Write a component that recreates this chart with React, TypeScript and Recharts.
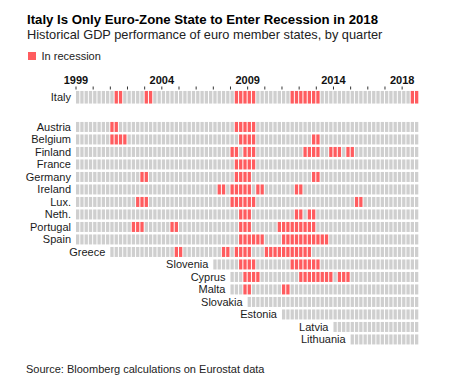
import { Scatter, ScatterChart, XAxis, YAxis } from 'recharts';

const FONT = '"Liberation Sans", Arial, Helvetica, sans-serif';
const START_YEAR = 1999;
const N_QUARTERS = 80;
const GRAY = '#cfcfcf';
const RED = '#ff5c5f';

const yearTicks = [
  1999, 2000, 2001, 2002, 2003, 2004, 2005, 2006, 2007, 2008,
  2009, 2010, 2011, 2012, 2013, 2014, 2015, 2016, 2017, 2018,
];
const yearLabels = [1999, 2004, 2009, 2014, 2018];

const italyRecessions = ['2001Q2-2001Q3', '2003Q1-2003Q2', '2008Q2-2009Q2', '2011Q3-2013Q1', '2018Q3-2018Q4'];

const countries = [
  'Austria', 'Belgium', 'Finland', 'France', 'Germany', 'Ireland', 'Lux.', 'Neth.', 'Portugal',
  'Spain', 'Greece', 'Slovenia', 'Cyprus', 'Malta', 'Slovakia', 'Estonia', 'Latvia', 'Lithuania',
];

const joinedIn = [
  '1999Q1', '1999Q1', '1999Q1', '1999Q1', '1999Q1', '1999Q1', '1999Q1', '1999Q1', '1999Q1',
  '1999Q1', '2001Q1', '2007Q1', '2008Q1', '2008Q1', '2009Q1', '2011Q1', '2014Q1', '2015Q1',
];

const recessions = [
  ['2001Q1-2001Q2', '2008Q2-2009Q2'],
  ['2001Q1-2001Q4', '2008Q3-2009Q2', '2012Q4-2013Q1'],
  ['2008Q1-2008Q2', '2008Q4-2009Q2', '2012Q2-2013Q1', '2013Q4-2014Q2', '2014Q4-2015Q1'],
  ['2008Q2-2009Q2'],
  ['2002Q4-2003Q1', '2008Q2-2009Q1', '2012Q4-2013Q1'],
  ['2007Q2-2007Q3', '2008Q1-2009Q1', '2009Q3-2009Q4', '2011Q4-2012Q1'],
  ['2002Q3-2003Q1', '2008Q1-2009Q2', '2015Q2-2015Q3'],
  ['2008Q3-2009Q1', '2011Q4-2012Q1', '2012Q3-2012Q4'],
  ['2002Q2-2002Q4', '2004Q3-2004Q4', '2008Q3-2009Q1', '2010Q4-2012Q4'],
  ['2008Q3-2009Q4', '2011Q1-2013Q3'],
  ['2004Q4-2005Q1', '2007Q3-2007Q4', '2008Q2-2009Q1', '2010Q1-2012Q3'],
  ['2008Q3-2009Q2', '2011Q3-2013Q1'],
  ['2008Q4-2009Q3', '2012Q1-2013Q4', '2014Q2-2014Q4'],
  ['2008Q4-2009Q1', '2011Q1-2011Q2'],
  [],
  [],
  [],
  [],
];

// layout
const LEFT = 76;
const RIGHT = 30.7;
const PITCH = (450 - LEFT - RIGHT) / N_QUARTERS;

const qIndex = (s: string) => (Number(s.slice(0, 4)) - START_YEAR) * 4 + Number(s.slice(5)) - 1;

type CellDatum = { q: number; row: number; rec: boolean; label?: string };

function buildRow(name: string, joined: string, spells: string[], row: number): CellDatum[] {
  const rec = new Set<number>();
  spells.forEach((sp) => {
    const [a, b] = sp.split('-').map(qIndex);
    for (let i = a; i <= b; i++) rec.add(i);
  });
  const start = qIndex(joined);
  const cells: CellDatum[] = [];
  for (let i = start; i < N_QUARTERS; i++) {
    cells.push({ q: i + 0.5, row, rec: rec.has(i), label: i === start ? name : undefined });
  }
  return cells;
}

const italyCells = buildRow('Italy', '1999Q1', italyRecessions, 0);
const otherCells = countries.flatMap((c, i) => buildRow(c, joinedIn[i], recessions[i], i));

const makeCell = (h: number) => (props: any) => {
  const { cx, cy, fill, payload } = props;
  const x0 = cx - PITCH / 2;
  return (
    <g>
      <rect x={x0} y={cy - h / 2} width={PITCH - 1} height={h} fill={fill} />
      {payload.label && (
        <text x={x0 - 5} y={cy} dy="0.36em" textAnchor="end" fontSize={11} fill="#1a1a1a" fontFamily={FONT}>
          {payload.label}
        </text>
      )}
    </g>
  );
};

const YearTick = (props: any) => {
  const { x, y, payload } = props;
  const year = START_YEAR + payload.value / 4;
  if (!yearLabels.includes(year)) return null;
  return (
    <text x={x} y={y} dy={-1} textAnchor="middle" fontSize={11} fontWeight="bold" fill="#111" fontFamily={FONT}>
      {year}
    </text>
  );
};

export default function App() {
  return (
    <div style={{ position: 'relative', width: 450, height: 384, margin: -8, background: '#fff', fontFamily: FONT }}>
      <svg width={450} height={384} style={{ position: 'absolute', left: 0, top: 0 }}>
        <text x={27} y={24} fontSize={13.2} fontWeight="bold" fill="#000" fontFamily={FONT}>
          Italy Is Only Euro-Zone State to Enter Recession in 2018
        </text>
        <text x={27} y={39} fontSize={12.8} fill="#222" fontFamily={FONT}>
          Historical GDP performance of euro member states, by quarter
        </text>
        <rect x={28} y={52} width={8} height={8} fill={RED} />
        <text x={41.5} y={60} fontSize={11} fill="#222" fontFamily={FONT}>
          In recession
        </text>
        <text x={26} y={373} fontSize={11} fill="#222" fontFamily={FONT}>
          Source: Bloomberg calculations on Eurostat data
        </text>
      </svg>

      <div style={{ position: 'absolute', left: 0, top: 0 }}>
        <ScatterChart width={450} height={110} margin={{ top: 70, right: RIGHT, bottom: 5, left: LEFT }}>
          <XAxis
            type="number"
            dataKey="q"
            domain={[0, N_QUARTERS]}
            orientation="top"
            ticks={yearTicks.map((y) => (y - START_YEAR) * 4)}
            tick={<YearTick />}
            tickSize={3}
            tickLine={{ stroke: '#333' }}
            axisLine={false}
            height={19.5}
            interval={0}
          />
          <YAxis type="number" dataKey="row" domain={[-0.5, 0.5]} hide />
          <Scatter data={italyCells.filter((d) => !d.rec)} fill={GRAY} shape={makeCell(12.6)} isAnimationActive={false} />
          <Scatter data={italyCells.filter((d) => d.rec)} fill={RED} shape={makeCell(12.6)} isAnimationActive={false} />
        </ScatterChart>
      </div>

      <div style={{ position: 'absolute', left: 0, top: 0 }}>
        <ScatterChart width={450} height={384} margin={{ top: 120.7, right: RIGHT, bottom: 38.3, left: LEFT }}>
          <XAxis type="number" dataKey="q" domain={[0, N_QUARTERS]} hide />
          <YAxis type="number" dataKey="row" domain={[-0.5, countries.length - 0.5]} reversed hide />
          <Scatter data={otherCells.filter((d) => !d.rec)} fill={GRAY} shape={makeCell(10)} isAnimationActive={false} />
          <Scatter data={otherCells.filter((d) => d.rec)} fill={RED} shape={makeCell(10)} isAnimationActive={false} />
        </ScatterChart>
      </div>
    </div>
  );
}
